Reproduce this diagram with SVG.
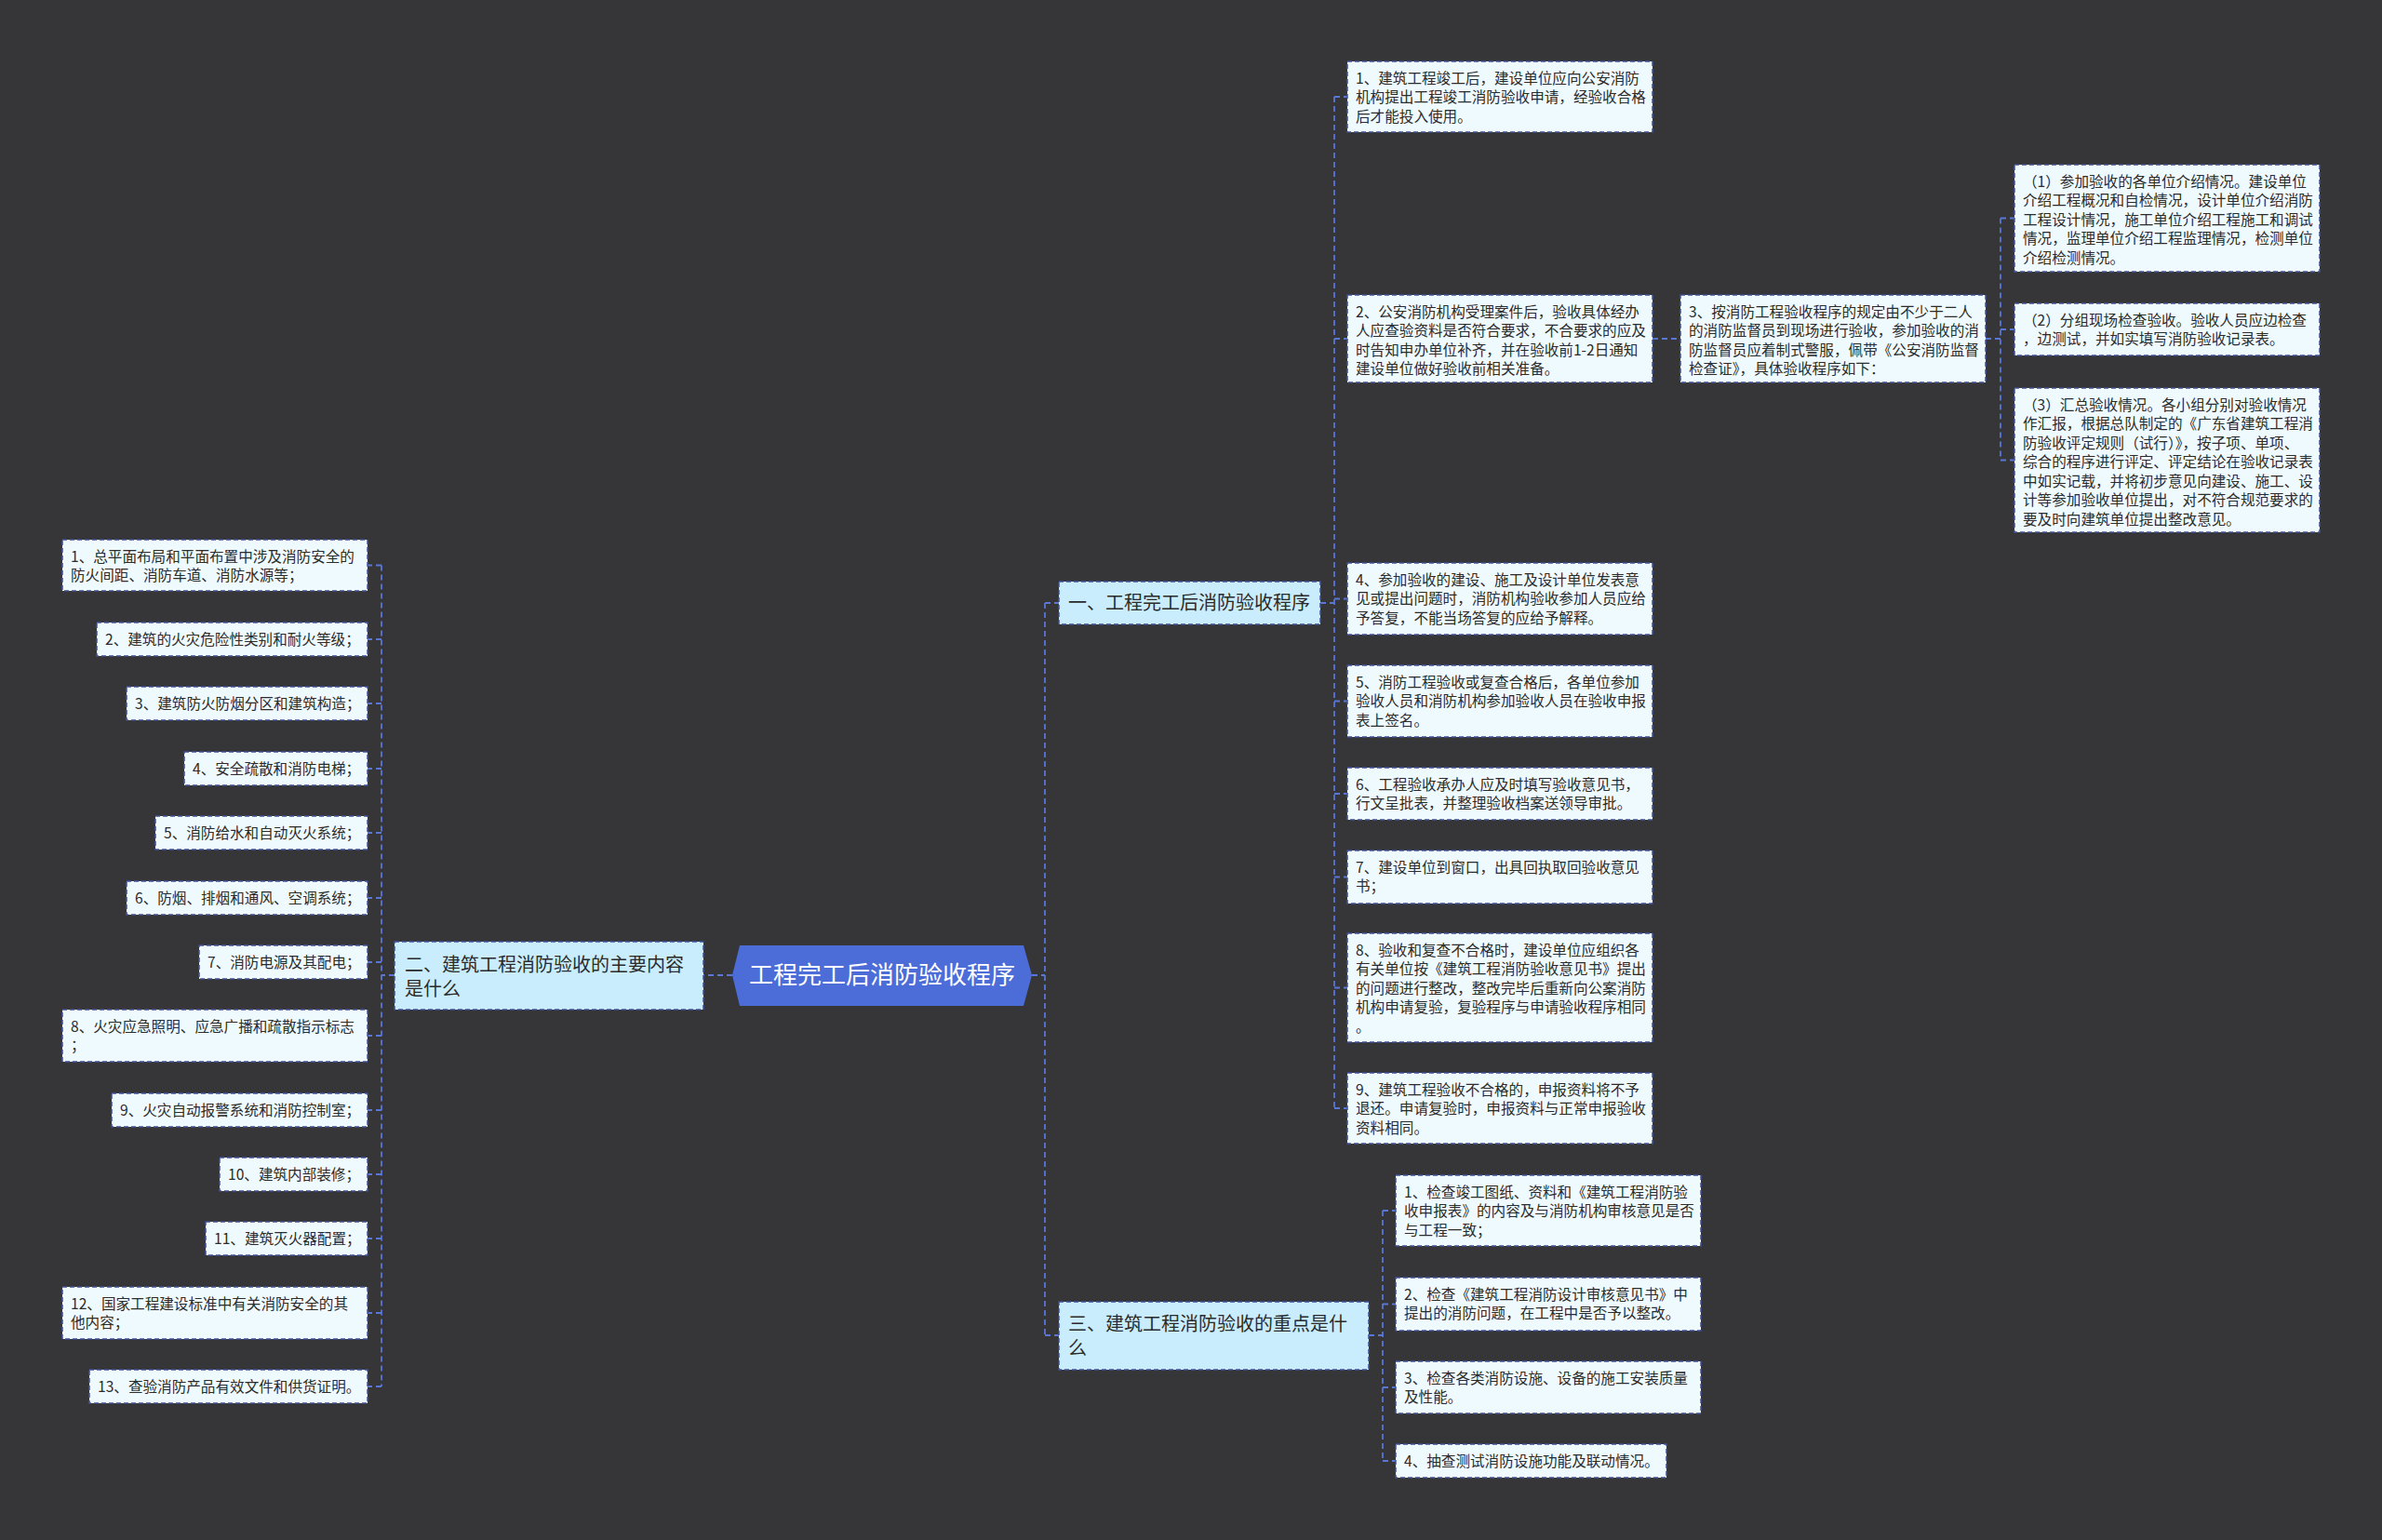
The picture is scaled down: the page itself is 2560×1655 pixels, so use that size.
<svg xmlns="http://www.w3.org/2000/svg" width="2560" height="1655" viewBox="0 0 2560 1655">
<style>
text{font-family:"Noto Sans CJK SC","Noto Sans",sans-serif;fill:#2b2b2b}
.t{font-size:15.6px}
.b{font-size:20px}
.leaf{fill:#effafe;stroke:#3f4f96;stroke-width:1.5;stroke-dasharray:5 3}
.br{fill:#c9edfc;stroke:#3f4f96;stroke-width:1.5;stroke-dasharray:5 3}
.c{fill:none;stroke:#5a76d6;stroke-width:1.8;stroke-dasharray:6 4}
</style>
<rect width="2560" height="1655" fill="#363538"/>
<g id="connectors">
<path class="c" d="M1109,1048 H1123 M1123,648 V1435 M1123,648 H1138 M1123,1435 H1138"/>
<path class="c" d="M787,1048 H756"/>
<path class="c" d="M1419,648 H1434 M1434,104 V1191 M1434,104 H1448 M1434,364 H1448 M1434,643.5 H1448 M1434,753.5 H1448 M1434,853 H1448 M1434,942.5 H1448 M1434,1061.5 H1448 M1434,1191 H1448"/>
<path class="c" d="M1776,364 H1806"/>
<path class="c" d="M2134,364 H2150 M2150,234.5 V494.5 M2150,234.5 H2165 M2150,354 H2165 M2150,494.5 H2165"/>
<path class="c" d="M1471,1435 H1486 M1486,1301 V1570 M1486,1301 H1500 M1486,1401.5 H1500 M1486,1491 H1500 M1486,1570 H1500"/>
<path class="c" d="M424,1048 H410 M410,607.5 V1490 M410,607.5 H395 M410,687 H395 M410,756 H395 M410,826 H395 M410,895 H395 M410,965 H395 M410,1034 H395 M410,1113 H395 M410,1193 H395 M410,1262 H395 M410,1331 H395 M410,1411 H395 M410,1490 H395"/>
</g>
<g id="root">
<polygon points="787,1048 795,1016 1100,1016 1109,1048 1100,1081 795,1081" fill="#4c6cd8"/>
<text x="948" y="1057" text-anchor="middle" style="font-size:26px;fill:#ffffff">工程完工后消防验收程序</text>
</g>
<g id="branch1">
<rect class="br" x="1138" y="625" width="281" height="46"/>
<text class="b" x="1148" y="655">一、工程完工后消防验收程序</text>
</g>
<g id="branch2">
<rect class="br" x="424" y="1012" width="332" height="73"/>
<text class="b"><tspan x="435" y="1044">二、建筑工程消防验收的主要内容</tspan><tspan x="435" y="1070">是什么</tspan></text>
</g>
<g id="branch3">
<rect class="br" x="1138" y="1399" width="333" height="73"/>
<text class="b"><tspan x="1148" y="1430">三、建筑工程消防验收的重点是什</tspan><tspan x="1148" y="1456">么</tspan></text>
</g>
<g id="c1">
<rect class="leaf" x="1448" y="66" width="328" height="76"/>
<text class="t"><tspan x="1457" y="89.5">1、建筑工程竣工后，建设单位应向公安消防</tspan><tspan x="1457" y="110">机构提出工程竣工消防验收申请，经验收合格</tspan><tspan x="1457" y="130.5">后才能投入使用。</tspan></text>
</g>
<g id="c2">
<rect class="leaf" x="1448" y="317" width="328" height="94"/>
<text class="t"><tspan x="1457" y="340.5">2、公安消防机构受理案件后，验收具体经办</tspan><tspan x="1457" y="361">人应查验资料是否符合要求，不合要求的应及</tspan><tspan x="1457" y="381.5">时告知申办单位补齐，并在验收前1-2日通知</tspan><tspan x="1457" y="402">建设单位做好验收前相关准备。</tspan></text>
</g>
<g id="c3">
<rect class="leaf" x="1806" y="317" width="328" height="94"/>
<text class="t"><tspan x="1815" y="340.5">3、按消防工程验收程序的规定由不少于二人</tspan><tspan x="1815" y="361">的消防监督员到现场进行验收，参加验收的消</tspan><tspan x="1815" y="381.5">防监督员应着制式警服，佩带《公安消防监督</tspan><tspan x="1815" y="402">检查证》，具体验收程序如下：</tspan></text>
</g>
<g id="s1">
<rect class="leaf" x="2165" y="177" width="328" height="115"/>
<text class="t"><tspan x="2174" y="200.5">（1）参加验收的各单位介绍情况。建设单位</tspan><tspan x="2174" y="221">介绍工程概况和自检情况，设计单位介绍消防</tspan><tspan x="2174" y="241.5">工程设计情况，施工单位介绍工程施工和调试</tspan><tspan x="2174" y="262">情况，监理单位介绍工程监理情况，检测单位</tspan><tspan x="2174" y="282.5">介绍检测情况。</tspan></text>
</g>
<g id="s2">
<rect class="leaf" x="2165" y="326" width="328" height="56"/>
<text class="t"><tspan x="2174" y="349.5">（2）分组现场检查验收。验收人员应边检查</tspan><tspan x="2174" y="370">，边测试，并如实填写消防验收记录表。</tspan></text>
</g>
<g id="s3">
<rect class="leaf" x="2165" y="417" width="328" height="155"/>
<text class="t"><tspan x="2174" y="440.5">（3）汇总验收情况。各小组分别对验收情况</tspan><tspan x="2174" y="461">作汇报，根据总队制定的《广东省建筑工程消</tspan><tspan x="2174" y="481.5">防验收评定规则（试行）》，按子项、单项、</tspan><tspan x="2174" y="502">综合的程序进行评定、评定结论在验收记录表</tspan><tspan x="2174" y="522.5">中如实记载，并将初步意见向建设、施工、设</tspan><tspan x="2174" y="543">计等参加验收单位提出，对不符合规范要求的</tspan><tspan x="2174" y="563.5">要及时向建筑单位提出整改意见。</tspan></text>
</g>
<g id="c4">
<rect class="leaf" x="1448" y="605" width="328" height="77"/>
<text class="t"><tspan x="1457" y="628.5">4、参加验收的建设、施工及设计单位发表意</tspan><tspan x="1457" y="649">见或提出问题时，消防机构验收参加人员应给</tspan><tspan x="1457" y="669.5">予答复，不能当场答复的应给予解释。</tspan></text>
</g>
<g id="c5">
<rect class="leaf" x="1448" y="715" width="328" height="77"/>
<text class="t"><tspan x="1457" y="738.5">5、消防工程验收或复查合格后，各单位参加</tspan><tspan x="1457" y="759">验收人员和消防机构参加验收人员在验收申报</tspan><tspan x="1457" y="779.5">表上签名。</tspan></text>
</g>
<g id="c6">
<rect class="leaf" x="1448" y="825" width="328" height="56"/>
<text class="t"><tspan x="1457" y="848.5">6、工程验收承办人应及时填写验收意见书，</tspan><tspan x="1457" y="869">行文呈批表，并整理验收档案送领导审批。</tspan></text>
</g>
<g id="c7">
<rect class="leaf" x="1448" y="914" width="328" height="57"/>
<text class="t"><tspan x="1457" y="937.5">7、建设单位到窗口，出具回执取回验收意见</tspan><tspan x="1457" y="958">书；</tspan></text>
</g>
<g id="c8">
<rect class="leaf" x="1448" y="1003" width="328" height="117"/>
<text class="t"><tspan x="1457" y="1026.5">8、验收和复查不合格时，建设单位应组织各</tspan><tspan x="1457" y="1047">有关单位按《建筑工程消防验收意见书》提出</tspan><tspan x="1457" y="1067.5">的问题进行整改，整改完毕后重新向公案消防</tspan><tspan x="1457" y="1088">机构申请复验，复验程序与申请验收程序相同</tspan><tspan x="1457" y="1108.5">。</tspan></text>
</g>
<g id="c9">
<rect class="leaf" x="1448" y="1153" width="328" height="76"/>
<text class="t"><tspan x="1457" y="1176.5">9、建筑工程验收不合格的，申报资料将不予</tspan><tspan x="1457" y="1197">退还。申请复验时，申报资料与正常申报验收</tspan><tspan x="1457" y="1217.5">资料相同。</tspan></text>
</g>
<g id="b1">
<rect class="leaf" x="1500" y="1263" width="328" height="76"/>
<text class="t"><tspan x="1509" y="1286.5">1、检查竣工图纸、资料和《建筑工程消防验</tspan><tspan x="1509" y="1307">收申报表》的内容及与消防机构审核意见是否</tspan><tspan x="1509" y="1327.5">与工程一致；</tspan></text>
</g>
<g id="b2">
<rect class="leaf" x="1500" y="1373" width="328" height="57"/>
<text class="t"><tspan x="1509" y="1396.5">2、检查《建筑工程消防设计审核意见书》中</tspan><tspan x="1509" y="1417">提出的消防问题，在工程中是否予以整改。</tspan></text>
</g>
<g id="b3">
<rect class="leaf" x="1500" y="1463" width="328" height="56"/>
<text class="t"><tspan x="1509" y="1486.5">3、检查各类消防设施、设备的施工安装质量</tspan><tspan x="1509" y="1507">及性能。</tspan></text>
</g>
<g id="b4">
<rect class="leaf" x="1500" y="1552" width="291" height="36"/>
<text class="t" x="1509" y="1575.5">4、抽查测试消防设施功能及联动情况。</text>
</g>
<g id="l1">
<rect class="leaf" x="67" y="580" width="328" height="55"/>
<text class="t"><tspan x="76" y="603.5">1、总平面布局和平面布置中涉及消防安全的</tspan><tspan x="76" y="624">防火间距、消防车道、消防水源等；</tspan></text>
</g>
<g id="l2">
<rect class="leaf" x="104" y="669" width="291" height="36"/>
<text class="t" x="113" y="692.5">2、建筑的火灾危险性类别和耐火等级；</text>
</g>
<g id="l3">
<rect class="leaf" x="136" y="738" width="259" height="36"/>
<text class="t" x="145" y="761.5">3、建筑防火防烟分区和建筑构造；</text>
</g>
<g id="l4">
<rect class="leaf" x="198" y="808" width="197" height="36"/>
<text class="t" x="207" y="831.5">4、安全疏散和消防电梯；</text>
</g>
<g id="l5">
<rect class="leaf" x="167" y="877" width="228" height="36"/>
<text class="t" x="176" y="900.5">5、消防给水和自动灭火系统；</text>
</g>
<g id="l6">
<rect class="leaf" x="136" y="947" width="259" height="36"/>
<text class="t" x="145" y="970.5">6、防烟、排烟和通风、空调系统；</text>
</g>
<g id="l7">
<rect class="leaf" x="214" y="1016" width="181" height="36"/>
<text class="t" x="223" y="1039.5">7、消防电源及其配电；</text>
</g>
<g id="l8">
<rect class="leaf" x="67" y="1085" width="328" height="56"/>
<text class="t"><tspan x="76" y="1108.5">8、火灾应急照明、应急广播和疏散指示标志</tspan><tspan x="76" y="1129">；</tspan></text>
</g>
<g id="l9">
<rect class="leaf" x="120" y="1175" width="275" height="36"/>
<text class="t" x="129" y="1198.5">9、火灾自动报警系统和消防控制室；</text>
</g>
<g id="l10">
<rect class="leaf" x="236" y="1244" width="159" height="36"/>
<text class="t" x="245" y="1267.5">10、建筑内部装修；</text>
</g>
<g id="l11">
<rect class="leaf" x="221" y="1313" width="174" height="36"/>
<text class="t" x="230" y="1336.5">11、建筑灭火器配置；</text>
</g>
<g id="l12">
<rect class="leaf" x="67" y="1383" width="328" height="56"/>
<text class="t"><tspan x="76" y="1406.5">12、国家工程建设标准中有关消防安全的其</tspan><tspan x="76" y="1427">他内容；</tspan></text>
</g>
<g id="l13">
<rect class="leaf" x="96" y="1472" width="299" height="36"/>
<text class="t" x="105" y="1495.5">13、查验消防产品有效文件和供货证明。</text>
</g>
</svg>
